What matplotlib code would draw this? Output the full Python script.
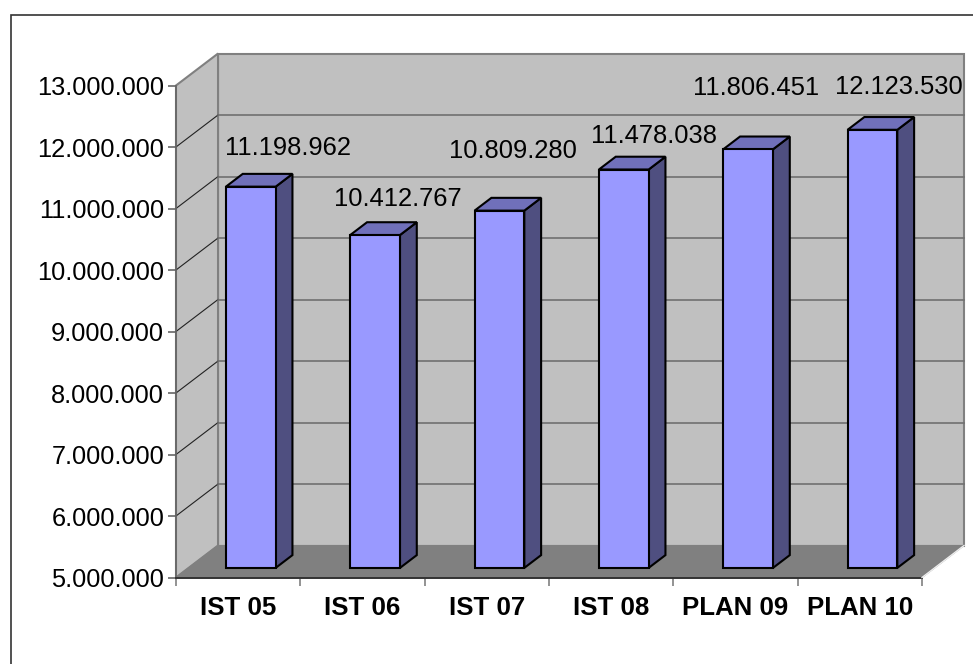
import matplotlib
matplotlib.use("Agg")
import matplotlib.pyplot as plt
from matplotlib.patches import Rectangle
from matplotlib.ticker import FuncFormatter

plt.rcParams['font.family'] = ['Liberation Sans', 'DejaVu Sans']

# Data
categories = ["IST 05", "IST 06", "IST 07", "IST 08", "PLAN 09", "PLAN 10"]
values = [11198962, 10412767, 10809280, 11478038, 11806451, 12123530]
y_ticks = [5000000, 6000000, 7000000, 8000000, 9000000, 10000000, 11000000, 12000000, 13000000]

# label offsets from the bar top, in points
label_dx = [26.5, 16.5, 10, 22, 6, 19]
label_dy = [28, 26, 43, 24, 44, 31]

# depth of the 3d box, in data units
depth_x = 0.338
depth_y = 520000
bar_width = 0.4
bar_front = 0.3
bar_back = 0.7

W, H = 973, 664
fig = plt.figure(figsize=(W / 100, H / 100), dpi=100)
fig.add_artist(Rectangle((10.5 / W, -0.1), 1.2, 1 - 14.5 / H + 0.1, transform=fig.transFigure,
                         fill=False, ec="#333333", lw=1.2))

ax = fig.add_axes([176 / W, (H - 577.5) / H, 746 / W, 492 / H])
ax.set_xlim(0, len(categories))
ax.set_ylim(y_ticks[0], y_ticks[-1])
ax.patch.set_visible(False)
for s in ax.spines.values():
    s.set_visible(False)


def proj(x, y, d):
    return x + d * depth_x, y + d * depth_y


def face(pts, color, ec, lw, z):
    xs, ys = zip(*[proj(*p) for p in pts])
    ax.fill(xs, ys, fc=color, ec=ec, lw=lw, zorder=z, clip_on=False, joinstyle="miter")


n = len(categories)
lo, hi = y_ticks[0], y_ticks[-1]

# walls and floor
face([(0, lo, 1), (n, lo, 1), (n, hi, 1), (0, hi, 1)], "#C0C0C0", "#808080", 1.5, 1)
face([(0, lo, 0), (0, lo, 1), (0, hi, 1), (0, hi, 0)], "#C0C0C0", "#808080", 1.5, 1)

# grid lines
for t in y_ticks[1:-1]:
    x0, y0 = proj(0, t, 0)
    x1, y1 = proj(0, t, 1)
    x2, y2 = proj(n, t, 1)
    ax.plot([x0, x1], [y0, y1], color="#222222", lw=0.8, zorder=2, clip_on=False)
    ax.plot([x1, x2], [y1, y2], color="#707070", lw=1.2, zorder=2, clip_on=False)

face([(0, lo, 0), (n, lo, 0), (n, lo, 1), (0, lo, 1)], "#808080", "#808080", 0.8, 3)

# axis lines at the front
ax.plot([0, 0], [lo, hi], color="#666666", lw=1.2, zorder=4, clip_on=False)
ax.plot([0, n], [lo, lo], color="#333333", lw=1.4, zorder=4, clip_on=False)
xe, ye = proj(n, lo, 1)
ax.plot([n, xe], [lo, ye], color="#EEEEEE", lw=1.0, zorder=4, clip_on=False)

# bars
for i, v in enumerate(values):
    l = i + 0.5 - bar_width / 2
    r = l + bar_width
    face([(r, lo, bar_front), (r, lo, bar_back), (r, v, bar_back), (r, v, bar_front)],
         "#4F4F80", "black", 1.5, 5)
    face([(l, v, bar_front), (r, v, bar_front), (r, v, bar_back), (l, v, bar_back)],
         "#7070BA", "black", 1.5, 5)
    face([(l, lo, bar_front), (r, lo, bar_front), (r, v, bar_front), (l, v, bar_front)],
         "#9999FF", "black", 1.5, 6)
    tx, ty = proj(i + 0.5, v, bar_front)
    ax.annotate(f"{v:,}".replace(",", "."), (tx, ty), xytext=(label_dx[i], label_dy[i]),
                textcoords="offset points", ha="center", va="center", fontsize=18.4,
                color="black", zorder=8, annotation_clip=False)

# axes ticks
ax.set_yticks(y_ticks)
ax.yaxis.set_major_formatter(FuncFormatter(lambda v, p: f"{int(v):,}".replace(",", ".")))
ax.tick_params(axis="y", length=6, width=1.2, color="#666666", labelsize=18.3, pad=2.5)
ax.set_xticks(range(n + 1))
ax.set_xticklabels([])
ax.set_xticks([i + 0.5 for i in range(n)], categories, minor=True, fontweight="bold", fontsize=18.6)
ax.tick_params(axis="x", which="major", length=6, width=1.2, color="#808080")
ax.tick_params(axis="x", which="minor", length=0, pad=13)

fig.savefig("out.png", dpi=100)
